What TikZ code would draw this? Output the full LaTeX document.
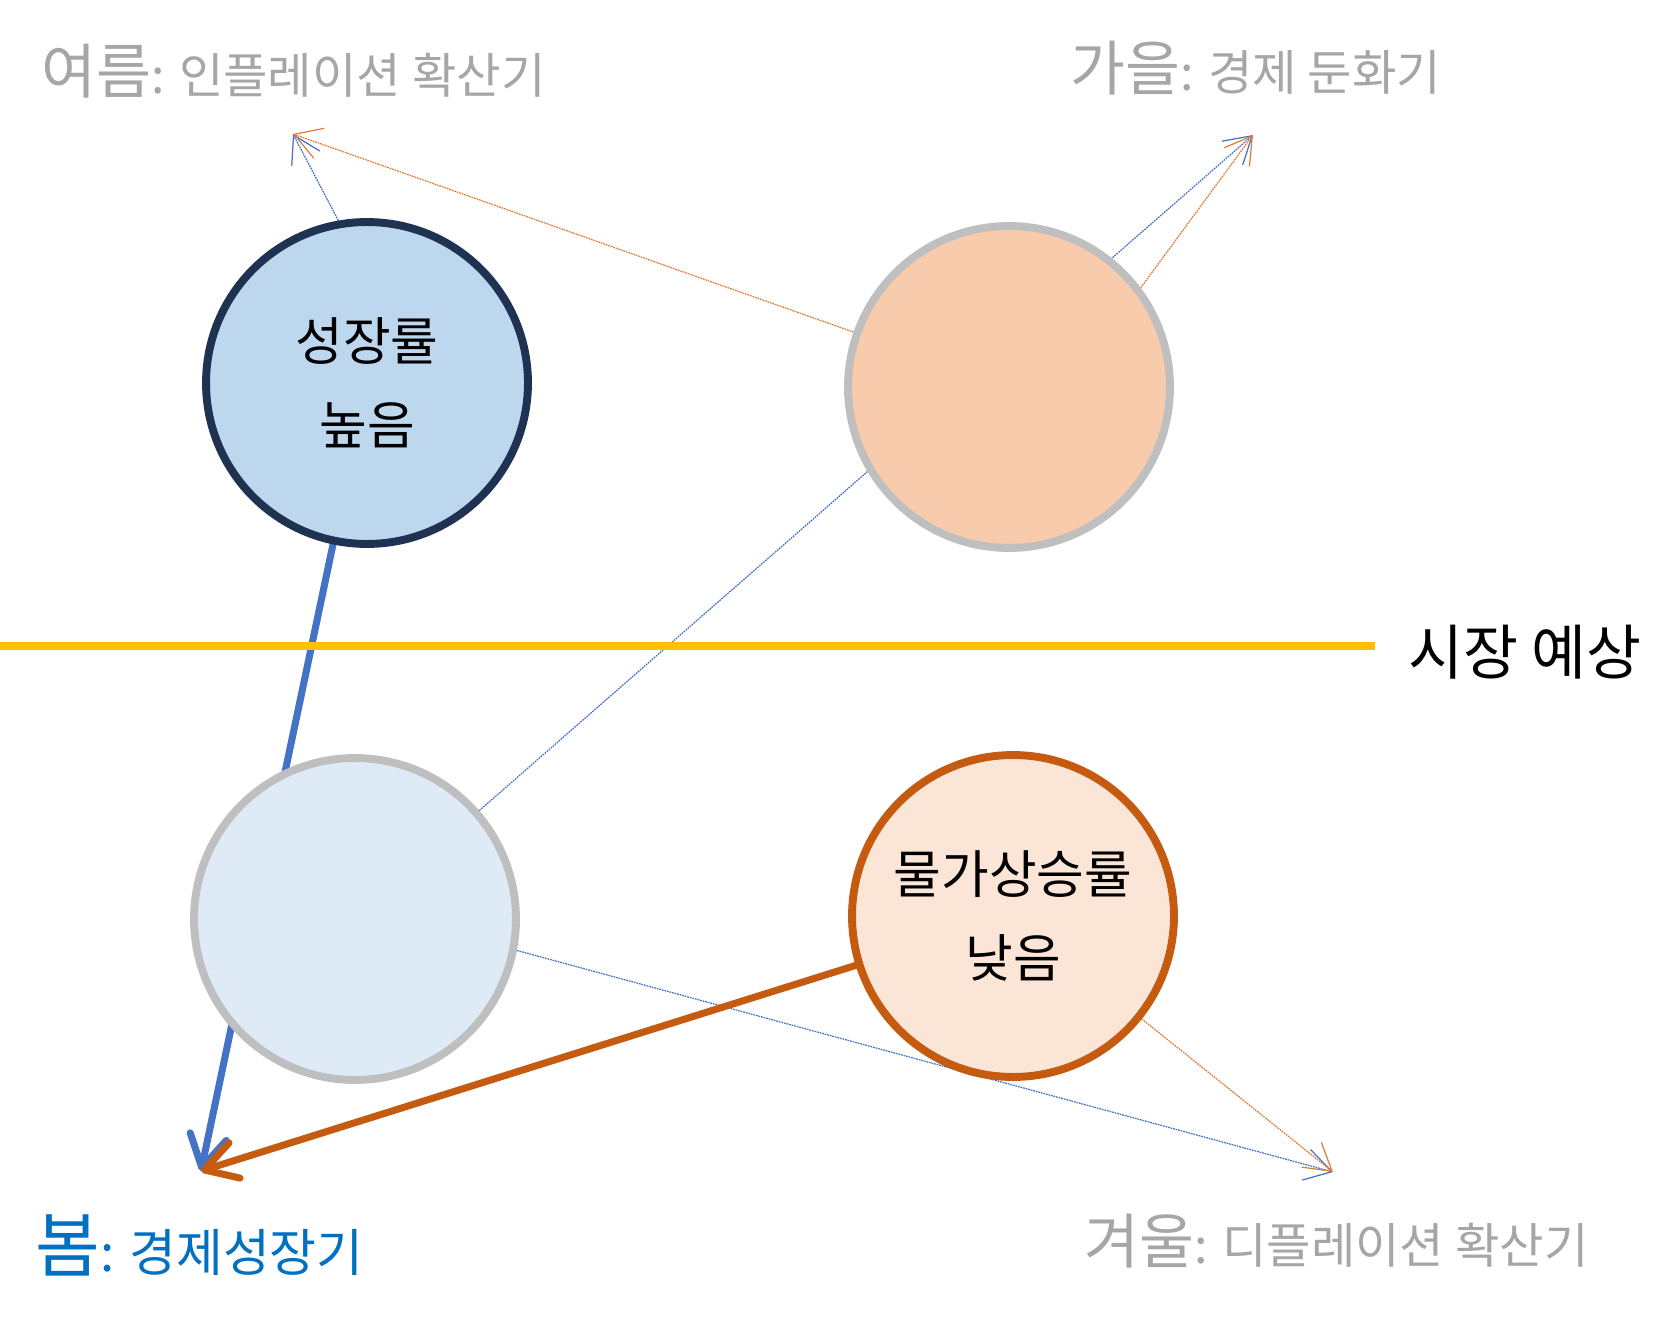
\documentclass[tikz,border=0pt]{standalone}
\usepackage{fontspec}
\setmainfont{Noto Sans CJK KR}
\usetikzlibrary{arrows.meta,backgrounds}

\definecolor{seasongray}{HTML}{A6A6A6}
\definecolor{springblue}{HTML}{0070C0}
\definecolor{navyline}{HTML}{1F3251}
\definecolor{ringgray}{HTML}{BFBFBF}
\definecolor{bluefill}{HTML}{BDD7EE}
\definecolor{palefill}{HTML}{DEEBF7}
\definecolor{peachfill}{HTML}{F8CBAD}
\definecolor{creamfill}{HTML}{FBE5D6}
\definecolor{rust}{HTML}{C55A11}
\definecolor{lightrust}{HTML}{E07B39}
\definecolor{arrowblue}{HTML}{4472C4}
\definecolor{marketyellow}{HTML}{FFC000}

\begin{document}
\begin{tikzpicture}[x=0.02cm, y=-0.02cm, ball/.style={circle,minimum size=6.44cm,inner sep=0pt,line width=4.5pt,align=center,font=\fontsize{29.5}{48}\selectfont}, season/.style={anchor=west,inner sep=0pt,text=seasongray,font=\fontsize{27.5}{27.5}\selectfont}, mainarrow/.style={line width=4pt,line cap=round,-{Straight Barb[length=18pt,width=21pt,round]}}, hintarrow/.style={line width=0.7pt,dash pattern=on 1pt off 0.5pt,-{Straight Barb[length=15pt,width=18pt]}}]
      \useasboundingbox (0,0) rectangle (1680,1321);

      \node[ball, fill=bluefill, draw=navyline] (growth) at (367,383) {성장률\\높음};
      \node[ball, fill=peachfill, draw=ringgray] (peach) at (1009,387) {};
      \node[ball, fill=palefill, draw=ringgray] (pale) at (355,919) {};
      \node[ball, fill=creamfill, draw=rust] (price) at (1013,916) {물가상승률\\낮음};

      \node[season] (summer) at (41,71) {{\fontsize{34}{34}\selectfont 여름}: 인플레이션 확산기};
      \node[season] (autumn) at (1070,68) {{\fontsize{34}{34}\selectfont 가을}: 경제 둔화기};
      \node[season, text=springblue, font=\fontsize{29}{29}\selectfont] (spring) at (35,1245) {{\fontsize{40}{40}\selectfont 봄}: 경제성장기};
      \node[season] (winter) at (1084,1241) {{\fontsize{34}{34}\selectfont 겨울}: 디플레이션 확산기};
      \node[anchor=west, inner sep=0pt, font=\fontsize{34}{34}\selectfont] (market) at (1408,652) {시장 예상};

      % arrow tips
      \coordinate (summertip) at (293,134);
      \coordinate (autumntip) at (1253,135);
      \coordinate (springtip) at (201,1171);
      \coordinate (wintertip) at (1333,1172);
      \coordinate (yl) at (0,646);

      \begin{scope}[on background layer]
      \draw[hintarrow, arrowblue] (growth.100) -- (summertip);
      \draw[hintarrow, lightrust] (peach) -- (summertip);
      \draw[hintarrow, arrowblue] (pale) -- (autumntip);
      \draw[hintarrow, lightrust] (peach.37) -- (autumntip);
      \draw[hintarrow, arrowblue] (pale.-11) -- (wintertip);
      \draw[hintarrow, lightrust] (price) -- (wintertip);

      \draw[mainarrow, arrowblue] (growth) -- (springtip);
      \draw[mainarrow, rust] (price) -- (springtip);

      % market line
      \draw[line width=5pt, marketyellow, shorten >=0.66cm] (yl) -- (yl -| market.west);
      \end{scope}
    \end{tikzpicture}
\end{document}
